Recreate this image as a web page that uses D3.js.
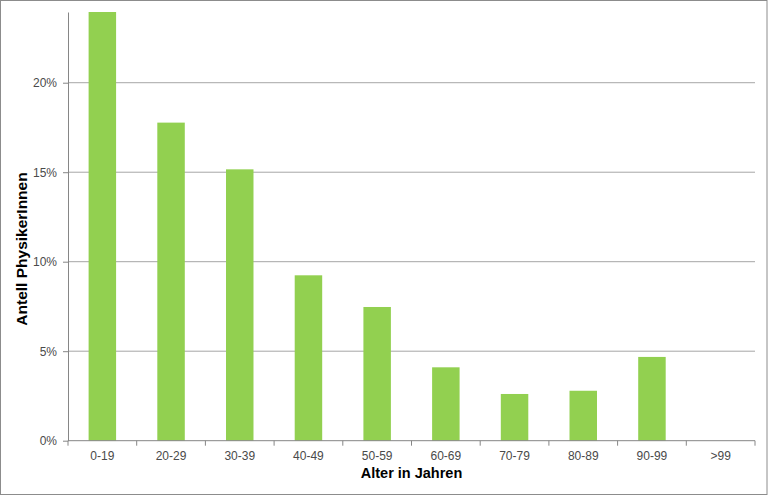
<!DOCTYPE html>
<html>
  <head>
    <script src="https://cdnjs.cloudflare.com/ajax/libs/d3/7.8.5/d3.min.js"></script>
<style>
  body { margin: 0; background: #fff; }
  text { font-family: "Liberation Sans", Arial, sans-serif; }
</style>
  </head>
  <body>
    <div id="vis"></div>
    <script type="text/javascript">

        var w = 768;
        var h = 496;
        var categories = ["0-19", "20-29", "30-39", "40-49", "50-59", "60-69", "70-79", "80-89", "90-99", ">99"];
        var values = [0.2395, 0.1777, 0.1516, 0.0924, 0.0747, 0.0410, 0.0261, 0.0279, 0.0468, 0];
        var yTicks = [0, 0.05, 0.10, 0.15, 0.20];

        var mLeft = 68, mRight = 755, mTop = 12, mBottom = 440.7;

        const svg = d3.select("#vis")
            .append("svg")
            .attr("width", w)
            .attr("height", h);

        // outer frame
        svg.append("rect")
            .attr("x", 0.5).attr("y", 0.5)
            .attr("width", w - 1.5).attr("height", h - 2)
            .attr("fill", "#fff")
            .attr("stroke", "#8c8c8c");

        var xScale = d3.scaleBand().domain(categories).range([mLeft, mRight]).paddingInner(0.6).paddingOuter(0.3);
        var xTick = d3.scaleBand().domain(categories).range([mLeft, mRight]);
        var yScale = d3.scaleLinear().domain([0, 0.2395]).range([mBottom, mTop]);

        // gridlines
        svg.append("g")
            .selectAll("line")
            .data(yTicks.slice(1))
            .join("line")
            .attr("x1", mLeft).attr("x2", mRight)
            .attr("y1", d => yScale(d)).attr("y2", d => yScale(d))
            .attr("stroke", "#a6a6a6")
            .attr("stroke-width", 1);

        svg.append("g")
            .selectAll("rect")
            .data(values)
            .join("rect")
            .attr("x", (d, i) => xScale(categories[i]))
            .attr("width", xScale.bandwidth())
            .attr("y", d => yScale(d))
            .attr("height", d => mBottom - yScale(d))
            .attr("fill", "#92d050");

        // y axis
        var yAxis = svg.append("g")
            .attr("transform", "translate(" + mLeft + ",0)")
            .call(d3.axisLeft(yScale).tickValues(yTicks).tickFormat(d3.format(".0%")).tickSize(5).tickSizeOuter(0));
        yAxis.select(".domain").attr("stroke", "#868686");
        yAxis.selectAll(".tick line").attr("stroke", "#868686");
        yAxis.selectAll("text").attr("font-size", 12).attr("fill", "#4a4a4a").attr("x", -11)
            .style("font-family", "'Liberation Sans', Arial, sans-serif");

        // x axis
        var xAxis = svg.append("g")
            .attr("transform", "translate(0," + mBottom + ")");
        xAxis.append("line")
            .attr("x1", mLeft).attr("x2", mRight)
            .attr("stroke", "#868686");
        xAxis.selectAll("line.tk")
            .data(categories.concat(["end"]))
            .join("line")
            .attr("class", "tk")
            .attr("x1", (d, i) => i < categories.length ? xTick(d) : mRight)
            .attr("x2", (d, i) => i < categories.length ? xTick(d) : mRight)
            .attr("y1", 0).attr("y2", 5)
            .attr("stroke", "#868686");
        xAxis.selectAll("text")
            .data(categories)
            .join("text")
            .attr("x", d => xTick(d) + xTick.bandwidth() / 2)
            .attr("y", 19)
            .attr("text-anchor", "middle")
            .attr("font-size", 12)
            .attr("fill", "#4a4a4a")
            .text(d => d);

        svg.append("text")
            .attr("x", (mLeft + mRight) / 2)
            .attr("y", 478)
            .attr("text-anchor", "middle")
            .attr("font-size", 14.5)
            .attr("font-weight", "bold")
            .attr("fill", "#000")
            .text("Alter in Jahren");

        svg.append("text")
            .attr("transform", "translate(27,249) rotate(-90)")
            .attr("text-anchor", "middle")
            .attr("font-size", 15.5)
            .attr("font-weight", "bold")
            .attr("fill", "#000")
            .text("Antell PhysikerInnen");

    </script>
  </body>
</html>
